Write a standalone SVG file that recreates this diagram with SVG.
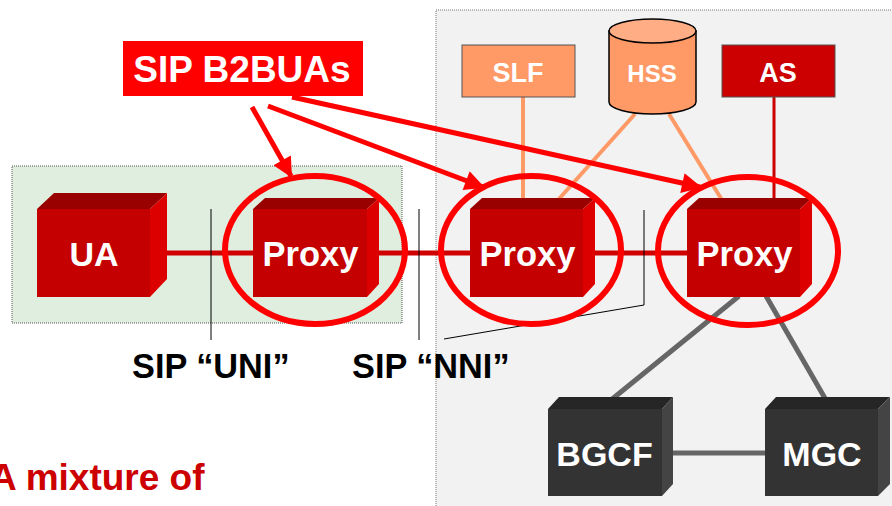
<svg xmlns="http://www.w3.org/2000/svg" width="892" height="506" viewBox="0 0 892 506">
<style>
text{font-family:"Liberation Sans",Arial,sans-serif;font-weight:bold}
.wt{fill:#fff;text-anchor:middle}
.front{fill:#C40000}.top{fill:#990000}.side{fill:#DD0000}
.dfront{fill:#333333}.dtop{fill:#262626}.dside{fill:#444444}
.ring{fill:none;stroke:#FF0000;stroke-width:6}
.arr{stroke:#FF0000;stroke-width:5;fill:none;marker-end:url(#ah)}
.thin{stroke:#000;stroke-width:1;fill:none}
</style>
<defs>
<marker id="ah" viewBox="0 0 10 10" refX="9" refY="5" markerWidth="22" markerHeight="20" markerUnits="userSpaceOnUse" orient="auto">
<path d="M0,0 L10,5 L0,10 z" fill="#FF0000"/>
</marker>
</defs>
<rect x="0" y="0" width="892" height="506" fill="#fff"/>
<g id="regions">
<rect x="436" y="10" width="470" height="510" fill="#F2F2F2" stroke="#777" stroke-width="1" stroke-dasharray="1,1"/>
<rect x="12" y="166" width="390" height="157" fill="#DFEEDF" stroke="#555" stroke-width="1" stroke-dasharray="1,1"/>
</g>
<g id="connectors">
<line x1="160" y1="253" x2="690" y2="253" stroke="#D00000" stroke-width="5"/>
<line x1="523" y1="97" x2="523" y2="200" stroke="#FF9966" stroke-width="4"/>
<line x1="635" y1="114" x2="558" y2="200" stroke="#FF9966" stroke-width="4"/>
<line x1="669" y1="114" x2="722" y2="200" stroke="#FF9966" stroke-width="4"/>
<line x1="774" y1="97" x2="774" y2="200" stroke="#CC0000" stroke-width="3"/>
<line x1="739" y1="296" x2="611" y2="400" stroke="#666" stroke-width="5"/>
<line x1="766" y1="296" x2="826" y2="400" stroke="#666" stroke-width="5"/>
<line x1="662" y1="453" x2="765" y2="453" stroke="#666" stroke-width="5"/>
<line class="thin" x1="211" y1="209" x2="211" y2="340"/>
<line class="thin" x1="419" y1="209" x2="419" y2="340"/>
<polyline class="thin" points="644,210 644,305 444,339"/>
</g>
<g id="slf">
<rect x="462" y="45" width="113" height="52" fill="#FF9966" stroke="#555" stroke-width="1"/>
<text class="wt" x="518" y="82" font-size="27">SLF</text>
</g>
<g id="hss">
<path d="M609,31 L609,102 A43.5,12 0 0 0 696,102 L696,31 Z" fill="#FF9966" stroke="#000" stroke-width="1.5"/>
<ellipse cx="652.5" cy="31" rx="43.5" ry="12" fill="#FFAD85" stroke="#000" stroke-width="1.5"/>
<text class="wt" x="652" y="82" font-size="24">HSS</text>
</g>
<g id="as">
<rect x="722" y="45" width="113" height="52" fill="#CC0000" stroke="#555" stroke-width="1"/>
<text class="wt" x="778" y="82" font-size="27">AS</text>
</g>
<g id="ua">
<polygon class="top" points="37,209 54,193 167,193 150,209"/>
<polygon class="side" points="150,209 167,193 167,279 150,297"/>
<rect class="front" x="37" y="209" width="113" height="88"/>
<text class="wt" x="94" y="266" font-size="34">UA</text>
</g>
<g id="proxy1">
<polygon class="top" points="253,209 265,198 379,198 367,209"/>
<polygon class="side" points="367,209 379,198 379,284 367,297"/>
<rect class="front" x="253" y="209" width="114" height="88"/>
<text class="wt" x="310.5" y="266" font-size="34.5">Proxy</text>
</g>
<g id="proxy2">
<polygon class="top" points="470,209 482,198 595,198 583,209"/>
<polygon class="side" points="583,209 595,198 595,284 583,297"/>
<rect class="front" x="470" y="209" width="113" height="88"/>
<text class="wt" x="527.5" y="266" font-size="34.5">Proxy</text>
</g>
<g id="proxy3">
<polygon class="top" points="687,209 699,198 812,198 800,209"/>
<polygon class="side" points="800,209 812,198 812,284 800,297"/>
<rect class="front" x="687" y="209" width="113" height="88"/>
<text class="wt" x="744.5" y="266" font-size="34.5">Proxy</text>
</g>
<g id="bgcf">
<polygon class="dtop" points="548,409 559,397 673,397 662,409"/>
<polygon class="dside" points="662,409 673,397 673,484 662,496"/>
<rect class="dfront" x="548" y="409" width="114" height="87"/>
<text class="wt" x="604.5" y="466" font-size="34">BGCF</text>
</g>
<g id="mgc">
<polygon class="dtop" points="765,409 776,397 890,397 878,409"/>
<polygon class="dside" points="878,409 890,397 890,484 878,496"/>
<rect class="dfront" x="765" y="409" width="113" height="87"/>
<text class="wt" x="822" y="466" font-size="34">MGC</text>
</g>
<g id="rings">
<ellipse class="ring" cx="315" cy="250" rx="90" ry="74"/>
<ellipse class="ring" cx="531" cy="250" rx="90" ry="74"/>
<ellipse class="ring" cx="748" cy="251" rx="90" ry="74"/>
</g>
<g id="b2bua">
<rect x="123" y="41" width="240" height="55" fill="#FF0000"/>
<text class="wt" x="242" y="82" font-size="37">SIP B2BUAs</text>
</g>
<g id="arrows">
<line class="arr" x1="252" y1="107" x2="291" y2="176"/>
<line class="arr" x1="268" y1="106" x2="483" y2="187"/>
<line class="arr" x1="292" y1="97" x2="700" y2="187"/>
</g>
<g id="labels">
<text x="132" y="378" font-size="34.3" fill="#000">SIP “UNI”</text>
<text x="352" y="378" font-size="34.3" fill="#000">SIP “NNI”</text>
<text x="-10" y="490" font-size="37" fill="#CC0000">A mixture of</text>
</g>
</svg>
